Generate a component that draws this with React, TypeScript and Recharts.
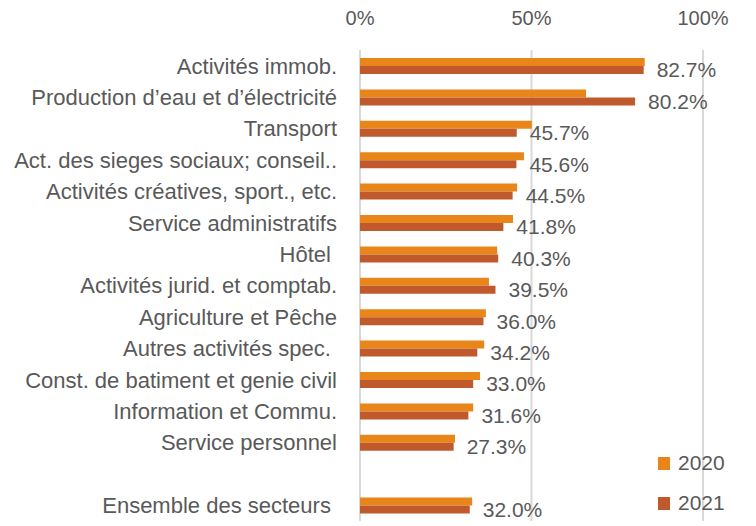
import { BarChart, Bar, XAxis, YAxis, CartesianGrid, LabelList } from 'recharts';

const categories = [
  'Activités immob.',
  'Production d’eau et d’électricité',
  'Transport',
  'Act. des sieges sociaux; conseil..',
  'Activités créatives, sport., etc.',
  'Service administratifs',
  'Hôtel\u00a0',
  'Activités jurid. et comptab.',
  'Agriculture et Pêche',
  'Autres activités spec.\u00a0',
  'Const. de batiment et genie civil',
  'Information et Commu.',
  'Service personnel',
  '',
  'Ensemble des secteurs\u00a0',
];

const values2020 = [83.0, 65.9, 50.1, 47.8, 45.8, 44.6, 40.0, 37.6, 36.7, 36.2, 35.0, 33.0, 27.7, null, 32.7];
const values2021 = [82.7, 80.2, 45.7, 45.6, 44.5, 41.8, 40.3, 39.5, 36.0, 34.2, 33.0, 31.6, 27.3, null, 32.0];

const xTicks = [0, 50, 100];

const data = categories.map((name, i) => ({
  name,
  y2020: values2020[i],
  y2021: values2021[i],
}));

const TEXT = '#595959';
const FONT = 'Liberation Sans, Arial, sans-serif';

const legendItems = [
  { label: '2020', color: '#E8861A' },
  { label: '2021', color: '#C05A2C' },
];

export default function App() {
  return (
    <div style={{ position: 'absolute', left: 0, top: 0, background: '#fff' }}>
      <BarChart
        width={756}
        height={526}
        data={data}
        layout="vertical"
        barGap={0}
        margin={{ top: 10, right: 53, left: 0, bottom: 5 }}
      >
        <CartesianGrid horizontal={false} stroke="#d9d9d9" strokeWidth={2} />
        <XAxis
          type="number"
          orientation="top"
          domain={[0, 100]}
          ticks={xTicks}
          tickFormatter={(v) => `${v}%`}
          axisLine={false}
          tickLine={false}
          tick={{ fill: TEXT, fontSize: 20, fontFamily: FONT }}
          tickMargin={19}
          height={40}
        />
        <YAxis
          type="category"
          dataKey="name"
          width={360}
          axisLine={false}
          tickLine={false}
          tickSize={0}
          tickMargin={23}
          interval={0}
          tick={{ fill: TEXT, fontSize: 22, fontFamily: FONT }}
        />
        <Bar dataKey="y2020" name="2020" fill="#E8861A" barSize={8} isAnimationActive={false} />
        <Bar dataKey="y2021" name="2021" fill="#C05A2C" barSize={8} isAnimationActive={false}>
          <LabelList
            dataKey="y2021"
            position="right"
            offset={13}
            formatter={(v: any) => (v == null ? '' : `${Number(v).toFixed(1)}%`)}
            style={{ fill: TEXT, fontSize: 21, fontFamily: FONT }}
          />
        </Bar>
      </BarChart>
      <div style={{ position: 'absolute', left: 658, top: 443, fontFamily: FONT, fontSize: 21, color: TEXT }}>
        {legendItems.map((item) => (
          <div key={item.label} style={{ display: 'flex', alignItems: 'center', height: 40 }}>
            <span style={{ display: 'inline-block', width: 12, height: 13, background: item.color, marginRight: 8 }} />
            {item.label}
          </div>
        ))}
      </div>
    </div>
  );
}
